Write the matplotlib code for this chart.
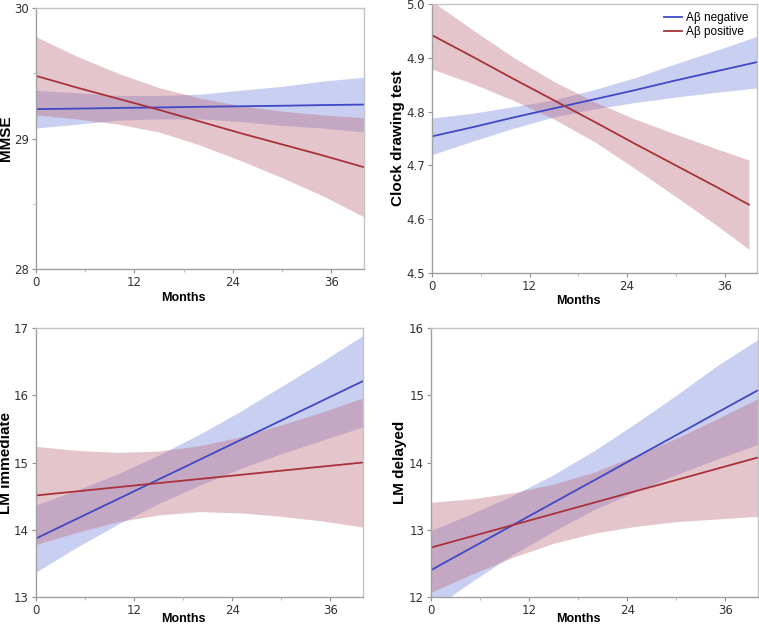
import matplotlib
matplotlib.use("Agg")
import matplotlib.pyplot as plt
from matplotlib.ticker import MultipleLocator

months = [0, 5, 10, 15, 20, 25, 30, 35, 40]
months_clock_pos = [0, 5, 10, 15, 20, 25, 30, 35, 39]

# MMSE
mmse_neg = [29.225, 29.229, 29.234, 29.238, 29.243, 29.247, 29.251, 29.256, 29.26]
mmse_neg_hi = [29.37, 29.35, 29.33, 29.33, 29.34, 29.37, 29.40, 29.44, 29.47]
mmse_neg_lo = [29.08, 29.11, 29.14, 29.15, 29.15, 29.13, 29.10, 29.08, 29.05]
mmse_pos = [29.48, 29.39, 29.305, 29.22, 29.13, 29.04, 28.955, 28.87, 28.78]
mmse_pos_hi = [29.78, 29.63, 29.50, 29.39, 29.31, 29.25, 29.21, 29.18, 29.16]
mmse_pos_lo = [29.18, 29.15, 29.11, 29.05, 28.95, 28.83, 28.70, 28.56, 28.40]

# Clock drawing test
clock_neg = [4.754, 4.771, 4.789, 4.806, 4.823, 4.840, 4.858, 4.875, 4.892]
clock_neg_hi = [4.788, 4.797, 4.809, 4.822, 4.841, 4.863, 4.889, 4.914, 4.940]
clock_neg_lo = [4.720, 4.745, 4.769, 4.790, 4.805, 4.817, 4.827, 4.836, 4.844]
clock_pos = [4.942, 4.902, 4.861, 4.821, 4.781, 4.740, 4.700, 4.660, 4.627]
clock_pos_hi = [5.005, 4.952, 4.901, 4.856, 4.818, 4.786, 4.758, 4.731, 4.710]
clock_pos_lo = [4.879, 4.852, 4.821, 4.786, 4.744, 4.694, 4.642, 4.589, 4.544]

# LM immediate
lmi_neg = [13.87, 14.163, 14.455, 14.748, 15.04, 15.333, 15.625, 15.918, 16.21]
lmi_neg_hi = [14.37, 14.59, 14.83, 15.11, 15.42, 15.76, 16.13, 16.50, 16.89]
lmi_neg_lo = [13.37, 13.74, 14.08, 14.39, 14.66, 14.91, 15.13, 15.33, 15.53]
lmi_pos = [14.51, 14.571, 14.633, 14.694, 14.755, 14.816, 14.878, 14.939, 15.0]
lmi_pos_hi = [15.24, 15.18, 15.15, 15.17, 15.25, 15.38, 15.56, 15.75, 15.96]
lmi_pos_lo = [13.78, 13.96, 14.12, 14.22, 14.27, 14.25, 14.20, 14.13, 14.04]

# LM delayed
lmd_neg = [12.40, 12.735, 13.069, 13.404, 13.738, 14.073, 14.407, 14.742, 15.075]
lmd_neg_hi = [12.99, 13.24, 13.51, 13.82, 14.18, 14.58, 15.00, 15.44, 15.83]
lmd_neg_lo = [11.81, 12.23, 12.63, 12.98, 13.30, 13.57, 13.82, 14.05, 14.27]
lmd_pos = [12.735, 12.903, 13.07, 13.238, 13.405, 13.573, 13.74, 13.908, 14.075]
lmd_pos_hi = [13.41, 13.46, 13.55, 13.68, 13.86, 14.10, 14.36, 14.65, 14.95]
lmd_pos_lo = [12.07, 12.34, 12.59, 12.80, 12.95, 13.05, 13.12, 13.16, 13.20]

x_ticks = [0, 12, 24, 36]
legend_labels = ["A\u03b2 negative", "A\u03b2 positive"]

blue_line = "#4048c4"
red_line = "#a8323c"
blue_fill = (120 / 255, 135 / 255, 222 / 255)
red_fill = (190 / 255, 110 / 255, 128 / 255)

fig = plt.figure(figsize=(7.59, 6.25), dpi=100)

panels = [
    # rect, ylabel, ylim, yticks, data, xlabel y, ylabel x, tick format
    ([0.0474, 0.5696, 0.4321, 0.4176], "MMSE", (28, 30), [28, 29, 30],
     (months, mmse_neg, mmse_neg_hi, mmse_neg_lo, months, mmse_pos, mmse_pos_hi, mmse_pos_lo),
     -0.088, -0.070, "{:.0f}"),
    ([0.5692, 0.5632, 0.4282, 0.4304], "Clock drawing test", (4.5, 5.0),
     [4.5, 4.6, 4.7, 4.8, 4.9, 5.0],
     (months, clock_neg, clock_neg_hi, clock_neg_lo, months_clock_pos, clock_pos, clock_pos_hi, clock_pos_lo),
     -0.080, -0.082, "{:.1f}"),
    ([0.0474, 0.0448, 0.4308, 0.4304], "LM immediate", (13, 17), [13, 14, 15, 16, 17],
     (months, lmi_neg, lmi_neg_hi, lmi_neg_lo, months, lmi_pos, lmi_pos_hi, lmi_pos_lo),
     -0.060, -0.070, "{:.0f}"),
    ([0.5679, 0.0448, 0.4308, 0.4304], "LM delayed", (12, 16), [12, 13, 14, 15, 16],
     (months, lmd_neg, lmd_neg_hi, lmd_neg_lo, months, lmd_pos, lmd_pos_hi, lmd_pos_lo),
     -0.060, -0.072, "{:.0f}"),
]

for i, (rect, ylab, ylim, yticks, d, xl_y, yl_x, fmt) in enumerate(panels):
    ax = fig.add_axes(rect)
    xn, yn, yn_hi, yn_lo, xp, yp, yp_hi, yp_lo = d
    ax.fill_between(xn, yn_lo, yn_hi, color=blue_fill, alpha=0.4, linewidth=0)
    ax.fill_between(xp, yp_lo, yp_hi, color=red_fill, alpha=0.4, linewidth=0)
    ax.plot(xn, yn, color=blue_line, lw=1.3, label=legend_labels[0])
    ax.plot(xp, yp, color=red_line, lw=1.3, label=legend_labels[1])

    ax.set_xlim(0, 40)
    ax.set_ylim(*ylim)
    ax.set_xticks(x_ticks)
    ax.xaxis.set_minor_locator(MultipleLocator(6))
    ax.set_yticks(yticks)
    ax.set_yticklabels([fmt.format(v) for v in yticks])
    if i == 0:
        ax.yaxis.set_minor_locator(MultipleLocator(0.5))

    for s in ax.spines.values():
        s.set_color("#c4c4c4")
        s.set_linewidth(1.0)
    ax.spines["left"].set_color("#a0a0a0")
    ax.spines["bottom"].set_color("#a0a0a0")
    ax.tick_params(which="major", length=3, width=0.8, color="#909090",
                   labelsize=8.5, labelcolor="#333333", pad=2)
    ax.tick_params(which="minor", length=2, width=0.6, color="#b0b0b0")

    ax.set_xlabel("Months", fontsize=9, fontweight="bold", family="Liberation Sans")
    ax.xaxis.set_label_coords(0.45, xl_y)
    ax.set_ylabel(ylab, fontsize=11, fontweight="bold", family="Liberation Sans")
    ax.yaxis.set_label_coords(yl_x, 0.5)

    if i == 1:
        ax.legend(loc="upper right", bbox_to_anchor=(1.0, 1.0), frameon=False,
                  prop={"family": "Liberation Sans", "size": 8.5},
                  handlelength=1.5, handletextpad=0.4, labelspacing=0.15,
                  borderaxespad=0.3)

fig.savefig("out.png", dpi=100)
